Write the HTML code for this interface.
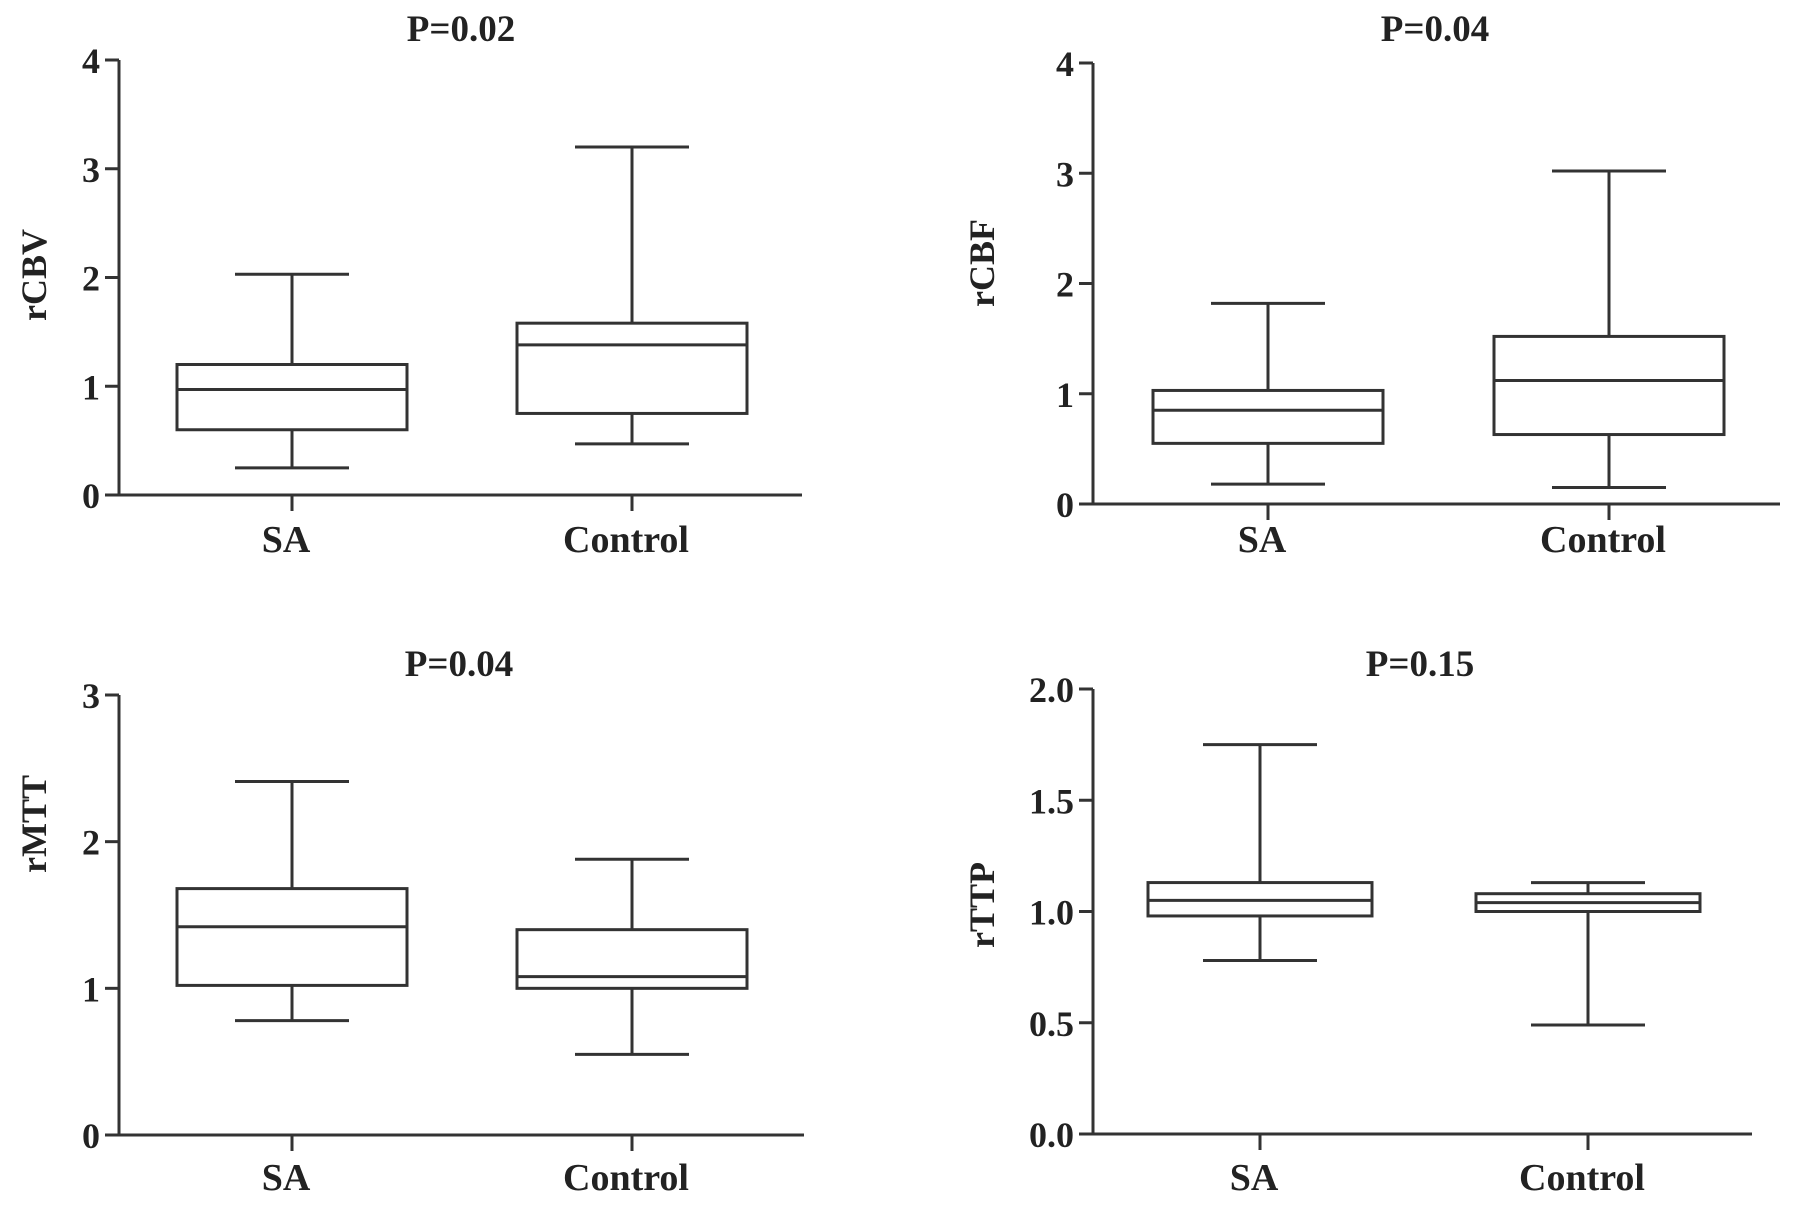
<!DOCTYPE html>
<html><head><meta charset="utf-8"><style>
html,body{margin:0;padding:0;background:#fff;}
svg{display:block;}
text{font-family:"Liberation Serif",serif;font-weight:bold;fill:#222;}
</style></head><body>
<svg id="c" width="1795" height="1205"></svg>
<script>
const categories = ["SA","Control"];
const titles = ["P=0.02","P=0.04","P=0.04","P=0.15"];
const yLabels = ["rCBV","rCBF","rMTT","rTTP"];
const ticksA = ["0","1","2","3","4"];
const ticksB = ["0","1","2","3","4"];
const ticksC = ["0","1","2","3"];
const ticksD = ["0.0","0.5","1.0","1.5","2.0"];
// [min, q1, median, q3, max]
const rCBV_SA = [0.25,0.6,0.97,1.2,2.03];
const rCBV_Control = [0.47,0.75,1.38,1.58,3.2];
const rCBF_SA = [0.18,0.55,0.85,1.03,1.82];
const rCBF_Control = [0.15,0.63,1.12,1.52,3.02];
const rMTT_SA = [0.78,1.02,1.42,1.68,2.41];
const rMTT_Control = [0.55,1.0,1.08,1.4,1.88];
const rTTP_SA = [0.78,0.98,1.05,1.13,1.75];
const rTTP_Control = [0.49,1.0,1.04,1.08,1.13];

const panels = [
 {ax:119,y0:495,yt:60,xe:802,cx:[292,632],hw:115,cw:57,ymax:4,ticks:ticksA,data:[rCBV_SA,rCBV_Control],tx:461,ty:41,lx:34,ly:275,xl:552},
 {ax:1093,y0:504,yt:63,xe:1780,cx:[1268,1609],hw:115,cw:57,ymax:4,ticks:ticksB,data:[rCBF_SA,rCBF_Control],tx:1435,ty:41,lx:982,ly:263,xl:552},
 {ax:119,y0:1135,yt:695,xe:804,cx:[292,632],hw:115,cw:57,ymax:3,ticks:ticksC,data:[rMTT_SA,rMTT_Control],tx:459,ty:676,lx:34,ly:824,xl:1190},
 {ax:1093,y0:1134,yt:689,xe:1752,cx:[1260,1588],hw:112,cw:57,ymax:2,ticks:ticksD,data:[rTTP_SA,rTTP_Control],tx:1420,ty:676,lx:982,ly:905,xl:1190}
];
const svg=document.getElementById('c');
const NS="http://www.w3.org/2000/svg";
function mk(tag,attrs,parent){const e=document.createElementNS(NS,tag);for(const k in attrs)e.setAttribute(k,attrs[k]);parent.appendChild(e);return e;}
panels.forEach((p,i)=>{
 const g=mk('g',{},svg);
 
 
 const y=v=>p.y0-(v/p.ymax)*(p.y0-p.yt);
 const st={stroke:'#333','stroke-width':3,fill:'none'};
 const ya=mk('line',Object.assign({x1:p.ax,y1:p.yt,x2:p.ax,y2:p.y0},st),g);
 
 
 const xa=mk('line',Object.assign({x1:p.ax-14,y1:p.y0,x2:p.xe,y2:p.y0},st),g);
 
 
 const n=p.ticks.length;
 p.ticks.forEach((t,k)=>{
  const v=k*p.ymax/(n-1);
  mk('line',Object.assign({x1:p.ax-14,y1:y(v),x2:p.ax,y2:y(v)},st),g);
  const tl=mk('text',{x:p.ax-19,y:y(v)+13,'text-anchor':'end','font-size':36},g);
  tl.textContent=t;
  
  
 });
 const ti=mk('text',{x:p.tx,y:p.ty,'text-anchor':'middle','font-size':37},g);
 ti.textContent=titles[i];
 
 
 const yl=mk('text',{x:p.lx,y:p.ly,'text-anchor':'middle','font-size':36,transform:`rotate(-90 ${p.lx} ${p.ly})`,dy:12},g);
 yl.textContent=yLabels[i];
 
 
 categories.forEach((c,j)=>{
  const cx=p.cx[j], d=p.data[j];
  mk('line',Object.assign({x1:cx,y1:p.y0,x2:cx,y2:p.y0+16},st),g);
  const xl=mk('text',{x:cx-6,y:p.xl,'text-anchor':'middle','font-size':38},g);
  xl.textContent=c;
  
  
  const bg=mk('g',{},g);
  
  
  mk('line',Object.assign({x1:cx,y1:y(d[0]),x2:cx,y2:y(d[1])},st),bg);
  mk('line',Object.assign({x1:cx,y1:y(d[3]),x2:cx,y2:y(d[4])},st),bg);
  mk('line',Object.assign({x1:cx-p.cw,y1:y(d[0]),x2:cx+p.cw,y2:y(d[0])},st),bg);
  mk('line',Object.assign({x1:cx-p.cw,y1:y(d[4]),x2:cx+p.cw,y2:y(d[4])},st),bg);
  mk('rect',Object.assign({x:cx-p.hw,y:y(d[3]),width:2*p.hw,height:y(d[1])-y(d[3])},st),bg);
  mk('line',Object.assign({x1:cx-p.hw,y1:y(d[2]),x2:cx+p.hw,y2:y(d[2])},st),bg);
 });
});
</script>
</body></html>
